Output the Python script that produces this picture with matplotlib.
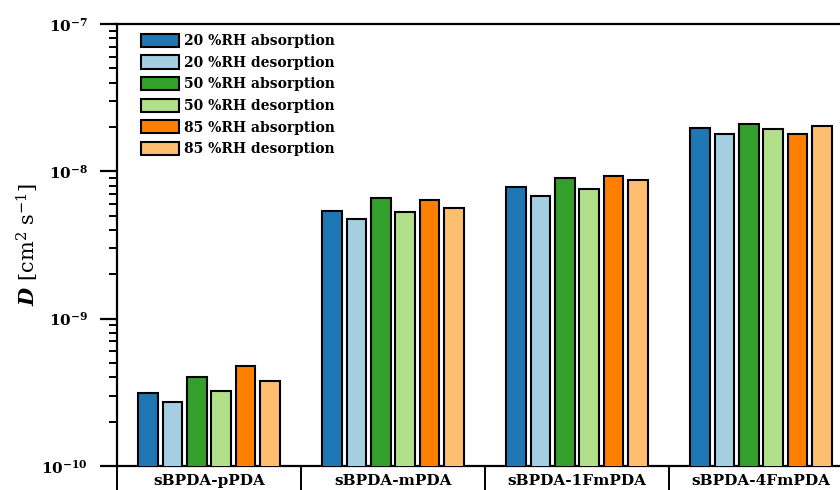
import numpy as np
import matplotlib
matplotlib.use('Agg')
import matplotlib.pyplot as plt
from matplotlib.ticker import FixedLocator, LogLocator, NullFormatter

# fonts: serif en negreta per tot, matemàtiques amb la mateixa família
plt.rcParams['font.family'] = 'DejaVu Serif'
plt.rcParams['font.weight'] = 'bold'
plt.rcParams['mathtext.fontset'] = 'custom'
plt.rcParams['mathtext.rm'] = 'DejaVu Serif:normal'
plt.rcParams['mathtext.it'] = 'DejaVu Serif:bold:italic'
plt.rcParams['mathtext.bf'] = 'DejaVu Serif:bold'

# dades
membranes = ['sBPDA-pPDA', 'sBPDA-mPDA', 'sBPDA-1FmPDA', 'sBPDA-4FmPDA']
series = ['20 %RH absorption', '20 %RH desorption', '50 %RH absorption',
          '50 %RH desorption', '85 %RH absorption', '85 %RH desorption']
rh20_abs = [3.11e-10, 5.40e-9, 7.83e-9, 1.97e-8]
rh20_des = [2.72e-10, 4.77e-9, 6.83e-9, 1.79e-8]
rh50_abs = [4.00e-10, 6.56e-9, 8.97e-9, 2.08e-8]
rh50_des = [3.21e-10, 5.27e-9, 7.59e-9, 1.95e-8]
rh85_abs = [4.80e-10, 6.39e-9, 9.25e-9, 1.78e-8]
rh85_des = [3.77e-10, 5.61e-9, 8.69e-9, 2.02e-8]
valors = [rh20_abs, rh20_des, rh50_abs, rh50_des, rh85_abs, rh85_des]
colors = ['#1f78b4', '#a6cee3', '#33a02c', '#b2df8a', '#ff7f00', '#fdbf6f']
yticks = [1e-10, 1e-9, 1e-8, 1e-7]
ytick_labels = [r'$\mathbf{10^{-10}}$', r'$\mathbf{10^{-9}}$',
                r'$\mathbf{10^{-8}}$', r'$\mathbf{10^{-7}}$']

fig = plt.figure(figsize=(8.4, 4.9), dpi=100)
# l'eix s'estén més enllà de la vora dreta (imatge retallada)
ax = fig.add_axes([117/840, 1 - 466/490, 736/840, 442/490])

x = np.arange(len(membranes))
pas = 0.133
amplada = 0.106
for i, (nom, v) in enumerate(zip(series, valors)):
    ax.bar(x + (i - 2.5) * pas, v, amplada, color=colors[i], edgecolor='black',
           linewidth=1.5, label=nom, zorder=3)

ax.set_yscale('log')
ax.set_ylim(1e-10, 1e-7)
ax.set_xlim(-0.5, 3.5)

ax.yaxis.set_major_locator(FixedLocator(yticks))
ax.set_yticklabels(ytick_labels)
ax.yaxis.set_minor_locator(LogLocator(base=10, subs=np.arange(2, 10)))
ax.yaxis.set_minor_formatter(NullFormatter())
ax.tick_params(axis='y', which='major', length=12, width=1.6, labelsize=11, pad=9)
ax.tick_params(axis='y', which='minor', length=6, width=1.4)

# etiquetes de categoria amb separadors verticals
ax.set_xticks(x)
ax.set_xticklabels(membranes, fontsize=11)
ax.set_xticks(np.arange(-0.5, 4.0, 1.0), minor=True)
ax.tick_params(axis='x', which='major', length=0, pad=6)
ax.tick_params(axis='x', which='minor', length=18, width=1.4, direction='out')

for s in ['left', 'bottom', 'top']:
    ax.spines[s].set_linewidth(1.6)
ax.spines['right'].set_visible(False)

ax.set_ylabel(r'$D$ [cm$^{2}$ s$^{-1}$]', fontsize=15, fontweight='normal')
ax.yaxis.set_label_coords(-0.103, 0.5)

ax.legend(loc='upper left', frameon=False, fontsize=10, handlelength=2.7,
          handleheight=1.1, labelspacing=0.52, handletextpad=0.35,
          borderaxespad=0.3, bbox_to_anchor=(0.02, 1.0))

fig.savefig('out.png', dpi=100)
